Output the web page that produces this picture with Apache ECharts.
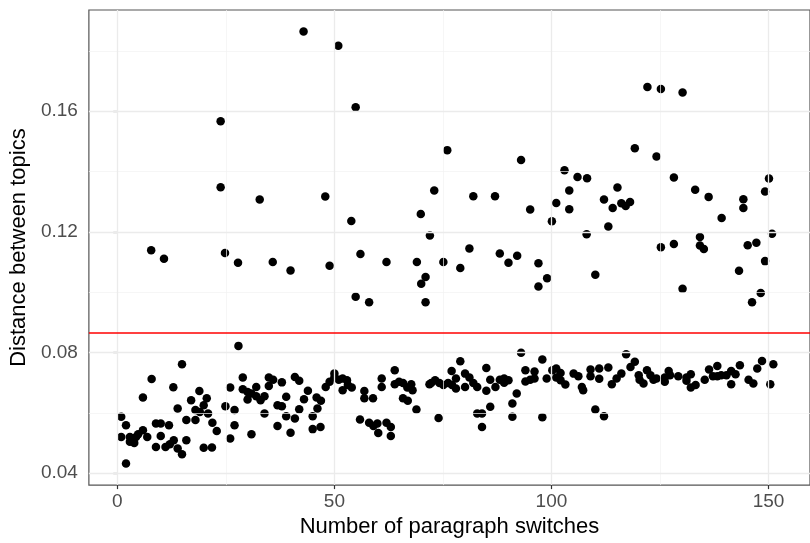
<!DOCTYPE html>
<html>
<head>
<meta charset="utf-8">
<script src="https://cdn.jsdelivr.net/npm/echarts@6/dist/echarts.min.js"></script>
<style>
  html, body { margin: 0; padding: 0; background: #fff; }
  #chart { width: 810px; height: 543px; }
</style>
</head>
<body>
<div id="chart"></div>
<script>
// points above the red threshold line: [paragraph switches, distance]
const upperPoints = [
  [7.8, 0.1139], [10.75, 0.1111], [23.8, 0.1567], [23.8, 0.1348], [24.8, 0.1130],
  [27.8, 0.1098], [32.8, 0.1307], [35.8, 0.1100], [39.9, 0.1072], [42.9, 0.1864],
  [47.9, 0.1317], [48.9, 0.1088], [50.9, 0.1817], [53.9, 0.1236], [54.9, 0.1613],
  [54.9, 0.0985], [56.0, 0.1127], [58.0, 0.0967], [62.0, 0.1100], [69.0, 0.1100],
  [69.9, 0.1259], [70.0, 0.1028], [71.0, 0.1050], [71.0, 0.0967], [72.0, 0.1188],
  [73.0, 0.1337], [75.1, 0.1100], [76.0, 0.1471], [79.0, 0.1080], [81.1, 0.1145],
  [82.0, 0.1318], [87.0, 0.1318], [88.1, 0.1128], [90.1, 0.1098], [92.1, 0.1121],
  [93.0, 0.1438], [95.1, 0.1274], [97.0, 0.1096], [97.0, 0.1019], [99.0, 0.1046],
  [100.1, 0.1235], [101.1, 0.1296], [103.0, 0.1404], [104.1, 0.1337], [104.1, 0.1275],
  [106.0, 0.1382], [108.2, 0.1378], [108.1, 0.1192], [110.1, 0.1058], [112.1, 0.1307],
  [113.1, 0.1218], [114.1, 0.1279], [115.2, 0.1347], [116.1, 0.1295], [117.1, 0.1286],
  [118.1, 0.1299], [119.2, 0.1477], [122.1, 0.1680], [124.2, 0.1450], [125.2, 0.1674],
  [125.2, 0.1149], [128.2, 0.1380], [128.2, 0.1160], [130.2, 0.1662], [130.2, 0.1011],
  [133.1, 0.1340], [134.2, 0.1183], [134.2, 0.1155], [135.1, 0.1143], [136.2, 0.1316],
  [139.2, 0.1246], [143.2, 0.1071], [144.2, 0.1308], [144.2, 0.1279], [145.2, 0.1156],
  [146.2, 0.0967], [147.2, 0.1164], [148.2, 0.0997], [149.2, 0.1334], [149.2, 0.1103],
  [150.1, 0.1377], [150.8, 0.1194]
];

// points in the dense band below the line
const lowerPoints = [
  [14.9, 0.0761], [7.9, 0.0712], [5.9, 0.0651], [12.9, 0.0685], [18.9, 0.0672],
  [17.0, 0.0642], [13.9, 0.0614], [0.9, 0.0587], [2.0, 0.0559], [0.9, 0.0520],
  [2.9, 0.0520], [3.9, 0.0500], [2.9, 0.0504], [4.8, 0.0529], [5.9, 0.0542],
  [6.9, 0.0520], [4.3, 0.0520], [8.9, 0.0565], [10.0, 0.0565], [11.9, 0.0559],
  [10.0, 0.0523], [8.9, 0.0487], [11.1, 0.0487], [12.1, 0.0496], [13.0, 0.0509],
  [13.9, 0.0482], [14.9, 0.0463], [15.9, 0.0509], [2.0, 0.0432], [15.9, 0.0576],
  [18.0, 0.0576], [18.0, 0.0609], [19.0, 0.0603], [19.9, 0.0625], [19.9, 0.0484],
  [20.6, 0.0648],
  [27.9, 0.0822], [28.9, 0.0717], [26.0, 0.0684], [28.9, 0.0678], [30.0, 0.0669],
  [30.9, 0.0664], [32.0, 0.0686], [32.0, 0.0655], [30.0, 0.0644], [33.0, 0.0642],
  [33.9, 0.0655], [34.9, 0.0717], [35.9, 0.0710], [34.9, 0.0689], [37.9, 0.0701],
  [38.9, 0.0653], [36.9, 0.0625], [37.9, 0.0622], [33.9, 0.0598], [38.9, 0.0589],
  [36.9, 0.0556], [39.9, 0.0534], [40.9, 0.0581], [41.9, 0.0612], [40.9, 0.0719],
  [41.9, 0.0706], [43.9, 0.0673], [43.0, 0.0645], [45.9, 0.0651], [45.0, 0.0589],
  [45.0, 0.0546], [27.0, 0.0609], [24.9, 0.0622], [27.0, 0.0559], [26.0, 0.0515],
  [30.9, 0.0529], [21.9, 0.0567], [22.9, 0.0540], [20.9, 0.0598], [21.8, 0.0485],
  [50.0, 0.0730], [48.0, 0.0686], [48.9, 0.0703], [50.0, 0.0718], [51.0, 0.0710],
  [51.9, 0.0714], [52.9, 0.0708], [53.1, 0.0692], [54.0, 0.0684], [51.9, 0.0675],
  [46.9, 0.0640], [46.8, 0.0553], [46.1, 0.0614], [56.9, 0.0672], [56.9, 0.0648],
  [58.9, 0.0648], [60.9, 0.0714], [60.9, 0.0686], [63.9, 0.0741], [63.9, 0.0695],
  [64.9, 0.0703], [65.8, 0.0699], [66.8, 0.0684], [67.7, 0.0695], [68.0, 0.0675],
  [65.8, 0.0648], [66.9, 0.0640], [68.9, 0.0611], [71.9, 0.0695], [55.9, 0.0578],
  [58.0, 0.0567], [59.0, 0.0556], [59.9, 0.0565], [60.1, 0.0533], [62.0, 0.0567],
  [63.0, 0.0553], [63.0, 0.0523],
  [72.3, 0.0699], [73.2, 0.0708], [74.2, 0.0699], [75.1, 0.0692], [76.2, 0.0699],
  [77.1, 0.0692], [78.0, 0.0681], [77.0, 0.0739], [78.0, 0.0714], [79.0, 0.0771],
  [80.1, 0.0686], [80.1, 0.0730], [81.1, 0.0717], [82.0, 0.0699], [82.9, 0.0686],
  [85.0, 0.0749], [85.0, 0.0673], [85.9, 0.0710], [87.1, 0.0686], [88.1, 0.0710],
  [89.1, 0.0714], [90.1, 0.0708], [89.1, 0.0700], [85.9, 0.0620], [82.9, 0.0598],
  [84.0, 0.0598], [84.0, 0.0553], [74.0, 0.0583], [93.0, 0.0799], [94.0, 0.0741],
  [94.0, 0.0704], [95.1, 0.0710], [96.1, 0.0714], [96.1, 0.0737], [92.0, 0.0664],
  [91.0, 0.0631], [91.0, 0.0587], [97.9, 0.0777], [98.9, 0.0714], [97.9, 0.0585],
  [100.2, 0.0741], [101.1, 0.0747], [102.1, 0.0732], [101.1, 0.0717], [102.1, 0.0708],
  [103.2, 0.0694], [105.1, 0.0730], [106.2, 0.0721], [107.0, 0.0686], [107.3, 0.0675],
  [109.0, 0.0744], [109.0, 0.0721], [111.0, 0.0747], [111.0, 0.0713], [113.1, 0.0750],
  [113.9, 0.0695], [115.0, 0.0714], [116.1, 0.0730], [117.2, 0.0794], [118.2, 0.0752],
  [119.2, 0.0769], [120.1, 0.0725], [120.3, 0.0710], [121.2, 0.0697], [122.0, 0.0741],
  [122.8, 0.0725], [123.5, 0.0710], [124.2, 0.0714], [110.1, 0.0611], [112.1, 0.0589],
  [126.1, 0.0717], [126.1, 0.0703], [127.0, 0.0739], [127.3, 0.0725], [129.2, 0.0721],
  [131.1, 0.0717], [131.1, 0.0706], [132.1, 0.0728], [132.1, 0.0684], [133.2, 0.0692],
  [135.3, 0.0710], [136.3, 0.0744], [137.2, 0.0721], [138.2, 0.0755], [138.2, 0.0721],
  [139.1, 0.0725], [140.3, 0.0725], [141.4, 0.0695], [141.4, 0.0739], [142.4, 0.0728],
  [143.4, 0.0758], [145.4, 0.0710], [146.5, 0.0697], [147.4, 0.0747], [148.5, 0.0772],
  [150.4, 0.0695], [151.1, 0.0761]
];

const threshold = 0.0866;

const xTicks = [0, 50, 100, 150];
const xMinor = [25, 75, 125];
const yTicks = [0.04, 0.08, 0.12, 0.16];
const yMinor = [0.06, 0.10, 0.14, 0.18];

const chart = echarts.init(document.getElementById('chart'));

const majorLine = { color: '#ebebeb', width: 1.3, type: 'solid' };
const minorLine = { color: '#f2f2f2', width: 0.7, type: 'solid' };

const gridLines = []
  .concat(xMinor.map(v => ({ xAxis: v, lineStyle: minorLine })))
  .concat(yMinor.map(v => ({ yAxis: v, lineStyle: minorLine })))
  .concat(xTicks.map(v => ({ xAxis: v, lineStyle: majorLine })))
  .concat(yTicks.map(v => ({ yAxis: v, lineStyle: majorLine })));

const tickText = { color: '#4d4d4d', fontSize: 19, fontFamily: 'Liberation Sans' };
const titleText = { color: '#000', fontSize: 22, fontFamily: 'Liberation Sans' };

chart.setOption({
  animation: false,
  grid: {
    left: 88.5,
    right: -11,
    top: 10,
    bottom: 57.7,
    show: true,
    backgroundColor: '#fff',
    borderColor: '#555',
    borderWidth: 1.2
  },
  xAxis: {
    type: 'value',
    min: -6.55,
    max: 159.55,
    name: 'Number of paragraph switches',
    nameLocation: 'middle',
    nameGap: 27,
    nameTextStyle: titleText,
    axisLine: { show: false },
    splitLine: { show: false },
    axisTick: { show: true, customValues: xTicks, length: 4, lineStyle: { color: '#333', width: 1.2 } },
    axisLabel: Object.assign({ customValues: xTicks, margin: 7 }, tickText)
  },
  yAxis: {
    type: 'value',
    min: 0.03604,
    max: 0.19356,
    name: 'Distance between topics',
    nameLocation: 'middle',
    nameGap: 50,
    nameTextStyle: titleText,
    axisLine: { show: false },
    splitLine: { show: false },
    axisTick: { show: true, customValues: yTicks, length: 4, lineStyle: { color: '#333', width: 1.2 } },
    axisLabel: Object.assign({
      customValues: yTicks,
      margin: 11,
      formatter: v => v.toFixed(2)
    }, tickText)
  },
  series: [
    {
      type: 'scatter',
      data: [],
      silent: true,
      z: 1,
      markLine: {
        silent: true,
        symbol: 'none',
        precision: 6,
        animation: false,
        label: { show: false },
        data: gridLines
      }
    },
    {
      type: 'scatter',
      data: upperPoints.concat(lowerPoints),
      symbolSize: 8.5,
      itemStyle: { color: '#000', opacity: 1 },
      z: 3
    },
    {
      type: 'scatter',
      data: [],
      silent: true,
      z: 4,
      markLine: {
        silent: true,
        symbol: 'none',
        precision: 6,
        animation: false,
        label: { show: false },
        lineStyle: { color: '#ff0000', width: 1.7, type: 'solid' },
        data: [{ yAxis: threshold }]
      }
    }
  ]
});
</script>
</body>
</html>
